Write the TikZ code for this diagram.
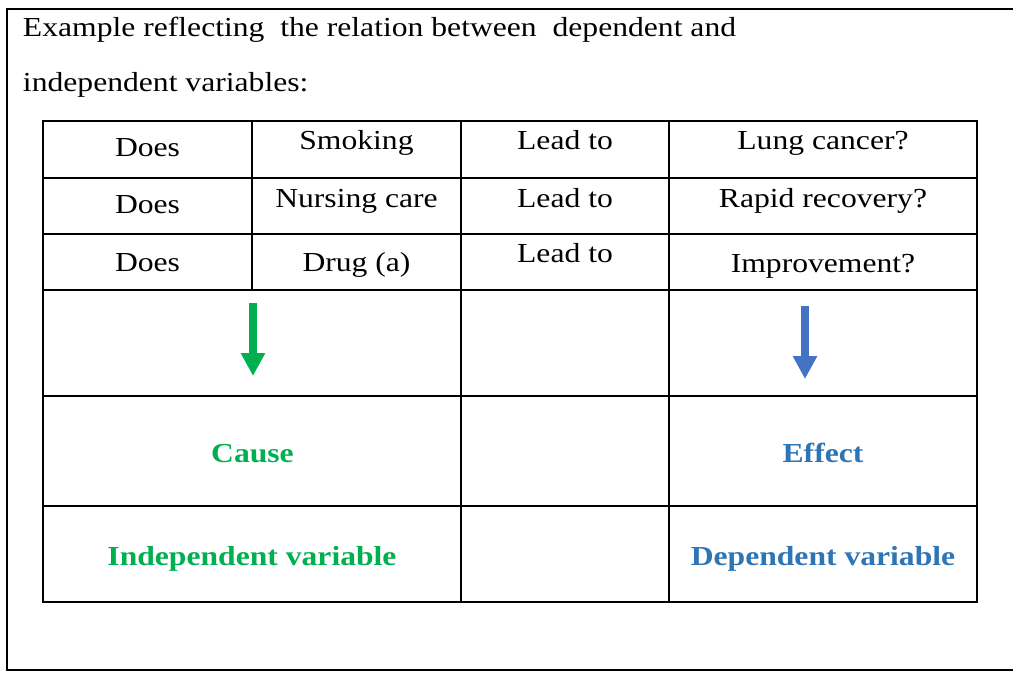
\documentclass[tikz,border=0pt]{standalone}
\usepackage{fontspec}
\setmainfont[FakeStretch=1.15]{Liberation Serif}
\usetikzlibrary{arrows.meta}
\definecolor{causegreen}{HTML}{00B050}
\definecolor{arrowblue}{HTML}{4472C4}
\definecolor{effectblue}{HTML}{2E75B6}

\begin{document}
\begin{tikzpicture}[x = 1pt, y = -1pt, line width = 2pt,
  cell/.style = {anchor = base, inner sep = 0, font = \fontsize{27.5}{32}\selectfont},
  key/.style = {cell, font = \fontsize{27.5}{32}\selectfont\bfseries},
  down/.style = {line width = 8pt, -{Triangle[length = 23pt, width = 23pt]}}]
\useasboundingbox (0,0) rectangle (1013,673);
% frame and table
\draw (1013,9) -- (6.5,9) -- (6.5,670) -- (1013,670);
\draw (43,121) rectangle (977,602);
\foreach \y in {178, 234, 290, 396, 506} \draw (43,\y) -- (977,\y);
\draw (252,121) -- (252,290);
\foreach \x in {461, 669} \draw (\x,121) -- (\x,602);
% heading
\node[cell, anchor = base west] (head1) at (22,36) {Example reflecting\ \ the relation between\ \ dependent and};
\node[cell, anchor = base west] (head2) at (22,91) {independent variables:};
% rows
\foreach \y [count = \i] in {156, 213, 271} \node[cell] (does\i) at (147.5,\y) {Does};
\foreach \y [count = \i] in {149, 207, 262} \node[cell] (lead\i) at (565,\y) {Lead to};
\node[cell] (smoking) at (356.5,149) {Smoking};
\node[cell] (nursing) at (356.5,207) {Nursing care};
\node[cell] (drug) at (356.5,271) {Drug (a)};
\node[cell] (cancer) at (823,149) {Lung cancer?};
\node[cell] (recovery) at (823,207) {Rapid recovery?};
\node[cell] (improve) at (823,272) {Improvement?};
% arrows
\coordinate (ctop) at (253,303); \coordinate (ctip) at (253,376);
\coordinate (etop) at (805,306); \coordinate (etip) at (805,379);
\draw[down, causegreen] (ctop) -- (ctip);
\draw[down, arrowblue] (etop) -- (etip);
% cause and effect
\node[key, causegreen] (cause) at (252.5,462) {Cause};
\node[key, effectblue] (effect) at (823,462) {Effect};
\node[key, causegreen] (indep) at (252,565) {Independent variable};
\node[key, effectblue] (dep) at (823,565) {Dependent variable};
\end{tikzpicture}
\end{document}
